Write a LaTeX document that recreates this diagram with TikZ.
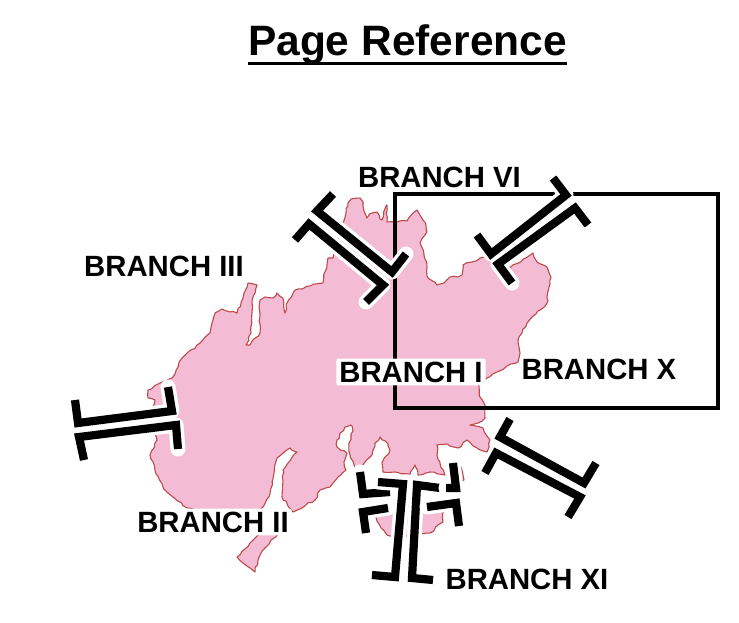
\documentclass[tikz,border=0pt]{standalone}
\usepackage{fontspec}
\usetikzlibrary{decorations.pathmorphing}
\setmainfont{Liberation Sans}
\definecolor{landfill}{HTML}{F4BCD4}
\definecolor{landline}{HTML}{BC4A4A}
\tikzset{
 land/.style={fill=landfill,draw=landline,line width=1.1pt,line join=round,decorate,decoration={random steps,segment length=4pt,amplitude=1pt}},
 halo/.style={draw=white,line width=15pt,line cap=round,line join=round},
 bar/.style={draw=black,line width=8.2pt,line cap=butt,line join=miter},
 framebox/.style={draw=black,line width=4pt,line join=miter},
 lab/.style={font=\fontsize{29.3}{29.3}\bfseries,text=black,inner sep=0pt},
 labhalo/.style={font=\fontsize{29.3}{29.3}\bfseries,fill=white,rounded corners=2pt,inner sep=3pt,text=black}
}
\newcommand{\cutmark}[1]{\draw[halo] #1; \draw[bar] #1;}
\begin{document}
\begin{tikzpicture}[x=1pt,y=-1pt]
\useasboundingbox (0,0) rectangle (739,623);
\fill[white] (0,0) rectangle (739,623);
\node[inner sep=0pt,font=\fontsize{42.5}{42.5}\bfseries] (title) at (407.5,45) {Page Reference};
\draw[black,line width=3.5pt] (248,63.5) coordinate (ul) -- (567,63.5) coordinate (ur);
\pgfmathsetseed{7}
\draw[land] (348,203)--(351,199)--(360,198)--(363,202)--(364,211)--(367,218)--(372,213)--(377,212)--(380,219)--(382,220)--(386,206)--(387,205)--(387,222)--(397,222)--(407,221)--(413,213)--(417,210)--(420,215)--(423,220)--(426,226)--(427,232)--(420,243)--(424,255)--(427,267)--(428,278)--(437,285)--(444,283)--(450,277)--(458,277)--(462,275)--(463,265)--(472,262)--(480,258)--(490,257)--(510,268)--(533,253)--(537,262)--(547,267)--(551,277)--(547,303)--(536,314)--(527,323)--(522,333)--(518,340)--(520,353)--(518,362)--(507,366)--(497,372)--(487,378)--(478,383)--(480,397)--(485,405)--(485,418)--(478,423)--(470,425)--(483,428)--(490,440)--(487,452)--(477,448)--(467,440)--(458,448)--(447,444)--(437,445)--(437,455)--(445,475)--(430,472)--(418,475)--(415,465)--(410,474)--(395,472)--(383,472)--(382,463)--(390,450)--(388,444)--(380,437)--(375,443)--(372,455)--(358,470)--(354,465)--(350,455)--(349,443)--(353,431)--(351,425)--(345,427)--(337,440)--(337,447)--(347,453)--(344,462)--(346,470)--(338,477)--(330,487)--(320,490)--(315,500)--(293,512)--(282,497)--(283,470)--(297,452)--(290,448)--(277,458)--(270,493)--(263,507)--(240,525)--(187,508)--(173,497)--(163,487)--(155,470)--(150,455)--(157,440)--(150,420)--(155,400)--(148,398)--(148,390)--(160,383)--(173,377)--(182,358)--(200,343)--(210,333)--(215,313)--(222,309)--(237,313)--(243,298)--(248,283)--(257,285)--(252,303)--(251,333)--(246,345)--(250,345)--(260,333)--(260,300)--(265,297)--(273,298)--(277,293)--(283,298)--(285,313)--(287,303)--(295,290)--(310,286)--(323,283)--(328,258)--(333,258)--(345,217)--cycle;
\draw[land] (237,557)--(250,543)--(262,532)--(282,532)--(271,540)--(265,548)--(258,560)--(255,572)--(247,566)--cycle;
\draw[land] (377,521)--(387,535)--(395,537)--(430,533)--(443,522)--(444,505)--(375,505)--cycle;
\draw[land] (460,465)--(464,480)--(455,482)--cycle;
\draw[framebox] (395,194) rectangle (718,408);
\cutmark{(333,194)--(317,211)--(392,272)--(406,254)}
\cutmark{(295,240)--(309,224)--(383,285)--(366,302)}
\cutmark{(477,235)--(491,254)--(566,195)--(553,178)}
\cutmark{(588,225)--(575,208)--(498,264)--(512,283)}
\cutmark{(75,400)--(78,423)--(172,411)--(168,387)}
\cutmark{(84,460)--(79,437)--(176,425)--(178,449)}
\cutmark{(510,419)--(500,437)--(584,483)--(596,463)}
\cutmark{(485,473)--(496,453)--(580,497)--(568,517)}
\cutmark{(360,472)--(363,494)--(390,492)}
\cutmark{(388,508)--(363,512)--(366,533)}
\cutmark{(378,482)--(403,484)--(395,577)--(372,575)}
\cutmark{(440,488)--(417,485)--(412,578)--(433,580)}
\cutmark{(453,463)--(456,488)--(446,488)}
\cutmark{(427,507)--(456,503)--(459,526)}
\node[lab] (b6) at (439.5,177) {BRANCH VI};
\node[lab] (b3) at (164,266) {BRANCH III};
\node[labhalo] (b1) at (411,372) {BRANCH I};
\node[lab] (b10) at (599,369) {BRANCH X};
\node[labhalo] (b2) at (213,522) {BRANCH II};
\node[lab] (b11) at (527,579) {BRANCH XI};
\end{tikzpicture}
\end{document}
